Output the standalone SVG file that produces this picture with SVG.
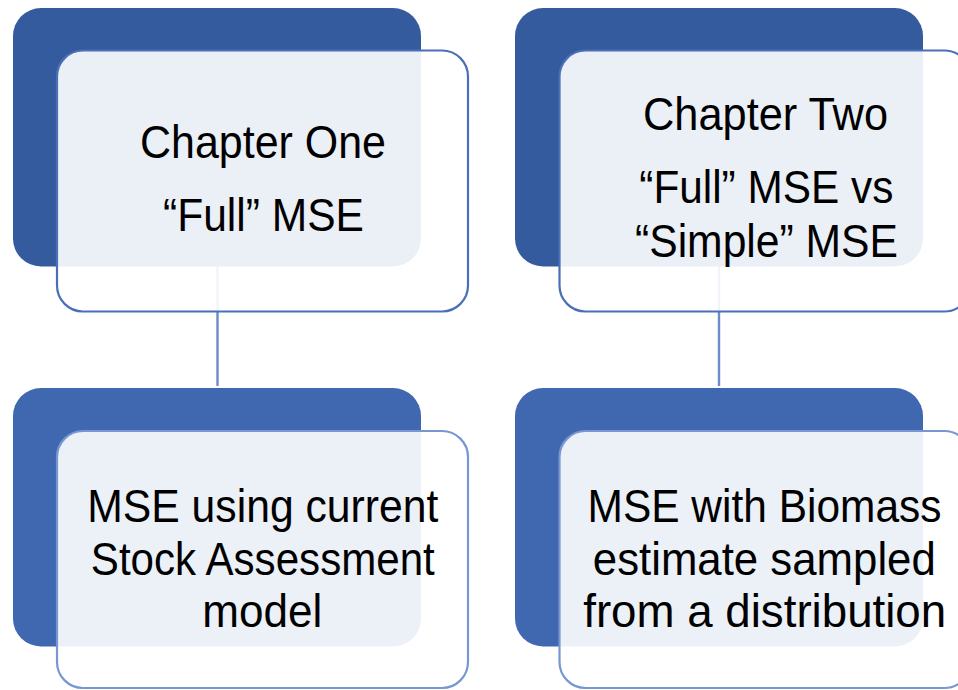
<svg xmlns="http://www.w3.org/2000/svg" width="958" height="690" viewBox="0 0 958 690">
<style>
.back1{fill:#355b9f}
.back2{fill:#3f68b0}
.front{fill:#ffffff;fill-opacity:0.9;stroke-width:2.2}
.f1{stroke:#4a6fb8}
.f2{stroke:#7796d2}
.conn{stroke:#6b8bcd;stroke-width:2.4;fill:none}
text{font-family:"Liberation Sans",Arial,sans-serif;font-size:46px;fill:#000;text-anchor:middle}
</style>
<rect width="958" height="690" fill="#ffffff"/>
<g id="connectors">
<line class="conn" x1="217.5" y1="266" x2="217.5" y2="386"/>
<line class="conn" x1="719" y1="266" x2="719" y2="386"/>
</g>
<g id="node-chapter-one">
<rect class="back1" x="13" y="8" width="408" height="258.5" rx="28"/>
<rect class="front f1" x="57" y="50.5" width="411" height="261" rx="26"/>
<text x="263" y="158" textLength="246" lengthAdjust="spacingAndGlyphs">Chapter One</text>
<text x="263.5" y="231" textLength="201" lengthAdjust="spacingAndGlyphs">“Full” MSE</text>
</g>
<g id="node-chapter-two">
<rect class="back1" x="515" y="8" width="408" height="258.5" rx="28"/>
<rect class="front f1" x="559.5" y="50.5" width="411" height="261" rx="26"/>
<text x="765.5" y="130" textLength="245" lengthAdjust="spacingAndGlyphs">Chapter Two</text>
<text x="766.3" y="203" textLength="254" lengthAdjust="spacingAndGlyphs">“Full” MSE vs</text>
<text x="766.5" y="256.5" textLength="263" lengthAdjust="spacingAndGlyphs">“Simple” MSE</text>
</g>
<g id="node-mse-current">
<rect class="back2" x="13" y="388" width="408" height="258.5" rx="28"/>
<rect class="front f2" x="57" y="431" width="411" height="257" rx="26"/>
<text x="262.8" y="521.7" textLength="351" lengthAdjust="spacingAndGlyphs">MSE using current</text>
<text x="262.8" y="575" textLength="344" lengthAdjust="spacingAndGlyphs">Stock Assessment</text>
<text x="262.3" y="626.7" textLength="120" lengthAdjust="spacingAndGlyphs">model</text>
</g>
<g id="node-mse-biomass">
<rect class="back2" x="515" y="388" width="408" height="258.5" rx="28"/>
<rect class="front f2" x="559.5" y="431" width="411" height="257" rx="26"/>
<text x="764.5" y="521.7" textLength="354" lengthAdjust="spacingAndGlyphs">MSE with Biomass</text>
<text x="764.3" y="575" textLength="343" lengthAdjust="spacingAndGlyphs">estimate sampled</text>
<text x="764.7" y="626.7" textLength="363" lengthAdjust="spacingAndGlyphs">from a distribution</text>
</g>
</svg>
